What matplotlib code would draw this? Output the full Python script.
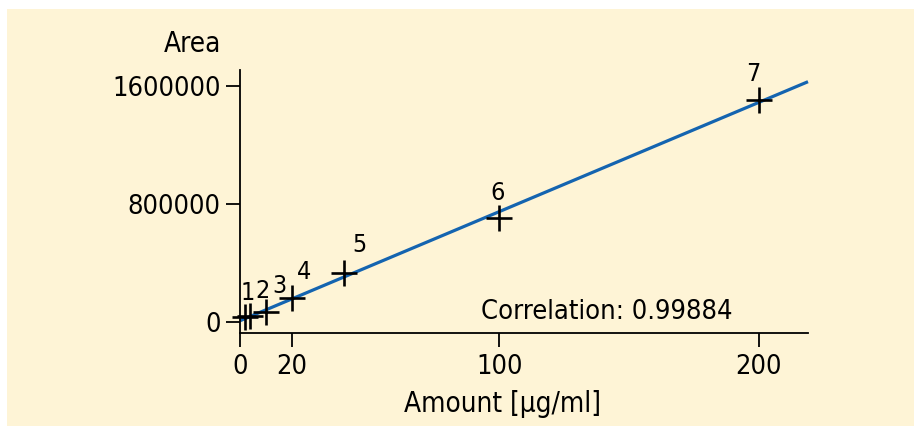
import matplotlib
matplotlib.use("Agg")
import matplotlib.pyplot as plt
from matplotlib.patches import Rectangle
import numpy as np

plt.rcParams["font.family"] = ["DejaVu Sans"]
plt.rcParams["font.stretch"] = "condensed"

# calibration points
amount = [2, 4, 10, 20, 40, 100, 200]
area = [36000, 38000, 68000, 160000, 332000, 705000, 1505000]
point_labels = ["1", "2", "3", "4", "5", "6", "7"]
x_ticks = [0, 20, 100, 200]
y_ticks = [0, 800000, 1600000]
y_ticklabels = ["0", "800000", "1600000"]
correlation = "0.99884"

# label offsets in points (style only)
label_offsets = [(2, 17), (9, 18), (10, 19), (9, 19), (11, 20), (-1, 18), (-4, 19)]

fig = plt.figure(figsize=(9.14, 4.28), dpi=100)
fig.patch.set_facecolor("white")
bg = Rectangle((7 / 914, 2 / 428), 1 - 7 / 914, 417 / 428,
               transform=fig.transFigure, facecolor="#FEF4D6",
               edgecolor="none", zorder=-10)
fig.add_artist(bg)

ax = fig.add_axes([240 / 914, 95 / 428, 568 / 914, 263 / 428])
ax.set_facecolor("none")

slope, intercept = np.polyfit(amount, area, 1)
xs = np.array([0, 219])
ax.plot(xs, slope * xs + intercept, color="#1464B0", lw=2.3, zorder=2,
        solid_capstyle="butt", clip_on=False)
ax.plot(amount, area, ls="none", marker="+", ms=19, mew=1.9, color="black",
        zorder=3, clip_on=False)

for x, y, lab, off in zip(amount, area, point_labels, label_offsets):
    ax.annotate(lab, (x, y), xytext=off, textcoords="offset points",
                ha="center", va="center", fontsize=18)

ax.text(93, -18000, "Correlation: " + correlation, fontsize=19.5, ha="left", va="bottom")

ax.set_xlim(0, 219)
ax.set_ylim(-74000, 1708000)
ax.set_xticks(x_ticks)
ax.set_yticks(y_ticks)
ax.set_yticklabels(y_ticklabels)
ax.tick_params(axis="both", labelsize=19.5, width=1.3, length=10, direction="out")
ax.tick_params(axis="y", pad=4)
ax.tick_params(axis="x", pad=5)
for side in ("top", "right"):
    ax.spines[side].set_visible(False)
for side in ("left", "bottom"):
    ax.spines[side].set_linewidth(1.3)

fig.text(192 / 914, 1 - 44 / 428, "Area", fontsize=20, ha="center", va="center")
fig.text(503 / 914, 1 - 404 / 428, "Amount [µg/ml]", fontsize=20, ha="center", va="center")

fig.savefig("out.png", dpi=100)
